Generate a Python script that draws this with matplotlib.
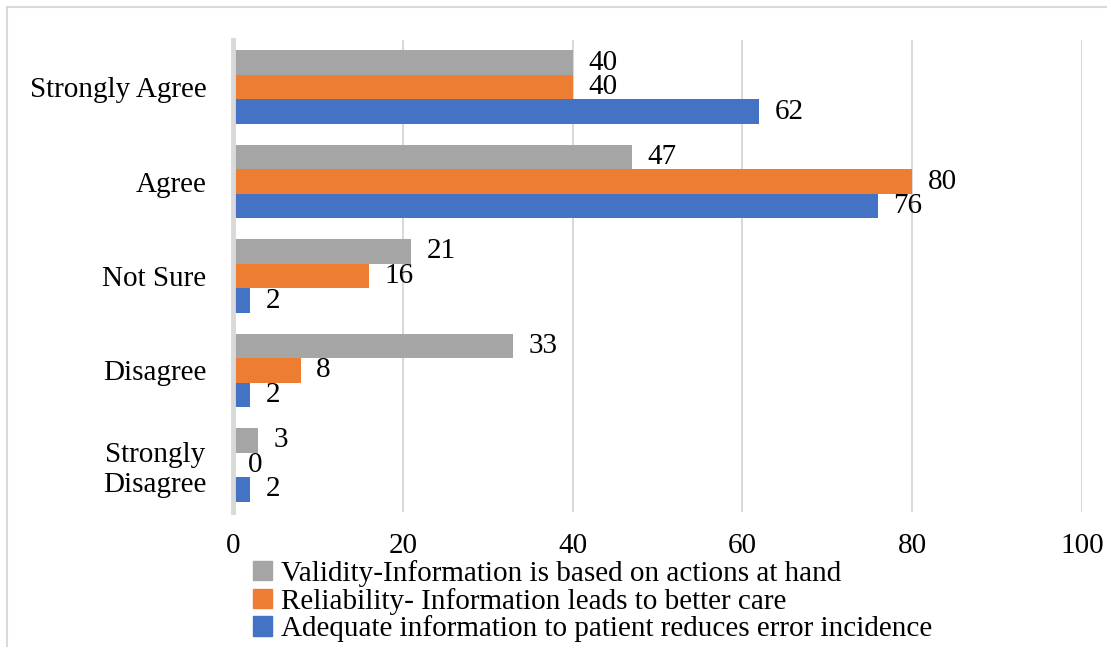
import matplotlib.pyplot as plt
import numpy as np
from matplotlib.patches import Rectangle, Patch

# data
categories = ["Strongly Agree", "Agree", "Not Sure", "Disagree", "Strongly\nDisagree"]
validity = [40, 47, 21, 33, 3]
reliability = [40, 80, 16, 8, 0]
adequate = [62, 76, 2, 2, 2]
series_names = [
    "Validity-Information is based on actions at hand",
    "Reliability- Information leads to better care",
    "Adequate information to patient reduces error incidence",
]
colors = ["#A5A5A5", "#ED7D31", "#4472C4"]

plt.rcParams['font.family'] = ['Liberation Serif', 'DejaVu Serif']
fs = 21

fig = plt.figure(figsize=(11.07, 6.47), dpi=100)
ax = fig.add_axes([233/1107, 1-512/647, (1082-233)/1107, (512-40)/647])

# outer chart border
fig.patches.append(Rectangle((7/1107, -0.1), 1.2, 1.1 - 7/647, transform=fig.transFigure,
                             fill=False, edgecolor="#d9d9d9", linewidth=1.5))

y = np.arange(len(categories))
h = 0.26
all_series = [validity, reliability, adequate]
for i, (vals, c) in enumerate(zip(all_series, colors)):
    pos = y + (i - 1) * h
    ax.barh(pos, vals, height=h, color=c, zorder=3)
    for p, v in zip(pos, vals):
        ax.text(v + 1.8, p, str(v), va="center", ha="left", fontsize=fs, zorder=4)

ax.set_xlim(0, 100)
ax.set_ylim(4.5, -0.5)
ax.set_xticks([0, 20, 40, 60, 80, 100])
ax.set_yticks(y)
ax.set_yticklabels(categories, fontsize=fs, multialignment="center")
ax.tick_params(axis="x", labelsize=fs, length=0, pad=15)
ax.tick_params(axis="y", length=0, pad=19)
ax.xaxis.grid(True, color="#d9d9d9", linewidth=1.5, zorder=0)
for s in ["top", "right", "bottom"]:
    ax.spines[s].set_visible(False)
ax.spines["left"].set_color("#d9d9d9")
ax.spines["left"].set_linewidth(3.5)
ax.spines["left"].set_zorder(5)

handles = [Patch(color=c) for c in colors]
fig.legend(handles, series_names, loc="upper left", bbox_to_anchor=(253/1107, 1-560/647),
           frameon=False, fontsize=fs, handlelength=0.65, handleheight=0.65,
           handletextpad=0.3, labelspacing=0.02, borderpad=0, borderaxespad=0)

fig.savefig("out.png", dpi=100)
